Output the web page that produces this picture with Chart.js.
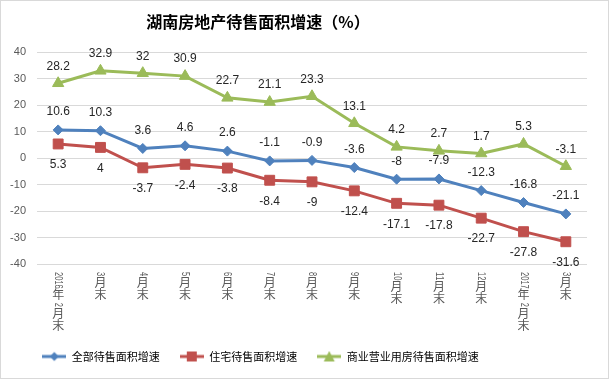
<!DOCTYPE html>
<html>
<head>
<meta charset="utf-8">
<script src="https://cdn.jsdelivr.net/npm/chart.js@4/dist/chart.umd.min.js"></script>
<style>
  html, body { margin: 0; padding: 0; background: #fff; }
  #wrap { position: relative; width: 610px; height: 382px; }
</style>
</head>
<body>
<div id="wrap"><canvas id="grap1" width="610" height="382"></canvas></div>
<script>
// data
var titulo = '湖南房地产待售面积增速（%）';
var months = ["2016年2月末", "3月末", "4月末", "5月末", "6月末", "7月末", "8月末", "9月末", "10月末", "11月末", "12月末", "2017年2月末", "3月末"];
var quanbu = [10.6, 10.3, 3.6, 4.6, 2.6, -1.1, -0.9, -3.6, -8, -7.9, -12.3, -16.8, -21.1];
var zhuzhai = [5.3, 4, -3.7, -2.4, -3.8, -8.4, -9, -12.4, -17.1, -17.8, -22.7, -27.8, -31.6];
var shangye = [28.2, 32.9, 32, 30.9, 22.7, 21.1, 23.3, 13.1, 4.2, 2.7, 1.7, 5.3, -3.1];
var yTicks = [-40, -30, -20, -10, 0, 10, 20, 30, 40];

var cjk = '"Noto Sans CJK SC", sans-serif';
var latin = '"Liberation Sans", Arial, sans-serif';

// little line+marker pictures for the legend
function legendIcon(color, style) {
    var c = document.createElement('canvas');
    c.width = 24; c.height = 12;
    var g = c.getContext('2d');
    g.strokeStyle = color; g.lineWidth = 3;
    g.beginPath(); g.moveTo(0, 6); g.lineTo(24, 6); g.stroke();
    g.fillStyle = color;
    g.beginPath();
    if (style == 'diamond') { g.moveTo(12, 1.5); g.lineTo(16.5, 6); g.lineTo(12, 10.5); g.lineTo(7.5, 6); }
    if (style == 'square') { g.rect(7, 1, 10, 10); }
    if (style == 'triangle') { g.moveTo(12, 0.5); g.lineTo(17.5, 11); g.lineTo(6.5, 11); }
    g.closePath(); g.fill();
    return c;
}
var icons = [legendIcon('#4f81bd', 'diamond'), legendIcon('#c0504d', 'square'), legendIcon('#9bbb59', 'triangle')];

// border, title, value labels and the stacked x labels
var extras = {
    id: 'extras',
    afterLayout: function (chart) {
        // the original legend sits a bit left of the canvas centre
        chart.legend.left -= 33;
        chart.legend.right -= 33;
    },
    beforeDraw: function (chart) {
        var ctx = chart.ctx;
        ctx.save();
        ctx.strokeStyle = '#d9d9d9'; ctx.lineWidth = 1;
        ctx.strokeRect(0.5, 0.5, 608, 378);
        ctx.font = 'bold 16px ' + cjk;
        ctx.fillStyle = '#000';
        ctx.textAlign = 'center';
        ctx.textBaseline = 'middle';
        ctx.fillText(titulo, 258, 22);
        ctx.restore();
    },
    afterDatasetsDraw: function (chart) {
        var ctx = chart.ctx;
        var offs = [-18, 21, -17];
        ctx.save();
        ctx.font = '12px ' + latin;
        ctx.fillStyle = '#262626';
        ctx.textAlign = 'center';
        ctx.textBaseline = 'middle';
        chart.data.datasets.forEach(function (ds, d) {
            chart.getDatasetMeta(d).data.forEach(function (pt, i) {
                ctx.fillText(String(ds.data[i]), pt.x, pt.y + offs[d]);
            });
        });
        ctx.restore();
    },
    afterDraw: function (chart) {
        var ctx = chart.ctx;
        var xs = chart.scales.x;
        ctx.save();
        ctx.fillStyle = '#595959';
        chart.data.labels.forEach(function (lab, i) {
            var x = xs.getPixelForValue(i);
            var y = 272;
            var runs = lab.match(/[0-9]+|[^0-9]/g);
            runs.forEach(function (r) {
                if (/[0-9]/.test(r)) {
                    var w = r.length * 4.2;
                    ctx.save();
                    ctx.font = '11px ' + latin;
                    ctx.translate(x, y);
                    ctx.rotate(Math.PI / 2);
                    ctx.textAlign = 'left';
                    ctx.textBaseline = 'middle';
                    ctx.fillText(r, 0, 0, w);
                    ctx.restore();
                    y += w + 1.5;
                } else {
                    ctx.font = '12px ' + cjk;
                    ctx.textAlign = 'center';
                    ctx.textBaseline = 'top';
                    ctx.fillText(r, x, y - 1.5);
                    y += 12.5;
                }
            });
        });
        ctx.restore();
    }
};

var ctx = document.getElementById('grap1').getContext('2d');
var chart = new Chart(ctx, {
    type: 'line',
    data: {
        labels: months,
        datasets: [
            {
                label: "全部待售面积增速",
                data: quanbu,
                borderColor: '#4f81bd',
                backgroundColor: '#4f81bd',
                borderWidth: 3,
                pointStyle: 'rectRot',
                pointRadius: 5,
                pointBorderWidth: 1,
                fill: false
            },
            {
                label: "住宅待售面积增速",
                data: zhuzhai,
                borderColor: '#c0504d',
                backgroundColor: '#c0504d',
                borderWidth: 3,
                pointStyle: 'rect',
                pointRadius: 7,
                pointBorderWidth: 1,
                fill: false
            },
            {
                label: "商业营业用房待售面积增速",
                data: shangye,
                borderColor: '#9bbb59',
                backgroundColor: '#9bbb59',
                borderWidth: 3,
                pointStyle: 'triangle',
                pointRadius: 6.5,
                pointBorderWidth: 1,
                fill: false
            }
        ]
    },
    options: {
        responsive: false,
        animation: false,
        layout: { padding: { left: 0, right: 23, top: 52, bottom: 10 } },
        plugins: {
            title: { display: false },
            legend: {
                position: 'bottom',
                labels: {
                    usePointStyle: true,
                    pointStyleWidth: 24,
                    padding: 20,
                    color: '#000',
                    font: { family: cjk, size: 11 },
                    generateLabels: function (chart) {
                        var items = Chart.defaults.plugins.legend.labels.generateLabels(chart);
                        items.forEach(function (it, k) { it.pointStyle = icons[k]; });
                        return items;
                    }
                }
            },
            tooltip: { enabled: false }
        },
        scales: {
            x: {
                offset: true,
                grid: { display: false },
                border: { display: false },
                ticks: { display: false },
                afterFit: function (s) { s.height = 67; }
            },
            y: {
                min: -40,
                max: 40,
                afterBuildTicks: function (s) { s.ticks = yTicks.map(function (v) { return { value: v }; }); },
                grid: { color: '#d9d9d9', drawTicks: false },
                border: { display: false },
                ticks: { color: '#595959', padding: 11, font: { family: latin, size: 11 } },
                afterFit: function (s) { s.width = 37; }
            }
        }
    },
    plugins: [extras]
});
</script>
</body>
</html>
